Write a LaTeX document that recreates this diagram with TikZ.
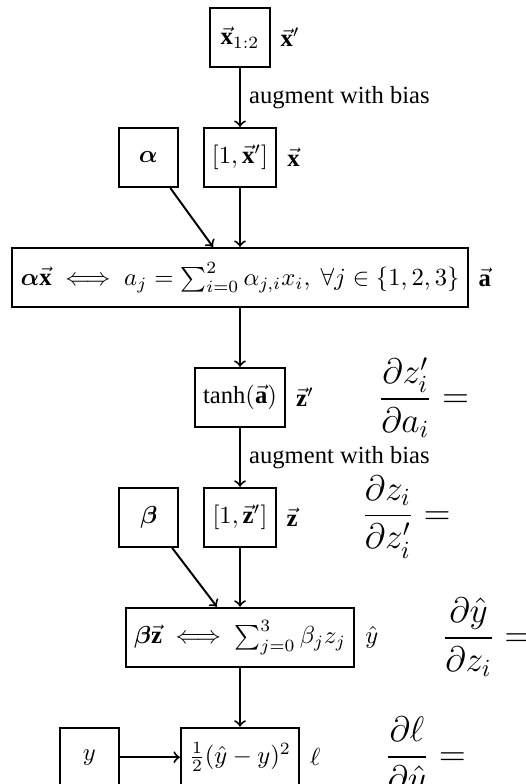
\documentclass[tikz,border=0pt]{standalone}
\usepackage{amsmath}
\usepackage{fontspec}
\setmainfont{Liberation Serif}
\usetikzlibrary{positioning}
\tikzset{
  opbox/.style={draw, thick, minimum size=0.845cm, align=center},
  outlabel/.style={inner sep=3.33pt},
  gradlabel/.style={font=\Large},
  arrow/.style={->, thick}
}

\begin{document}
\begin{tikzpicture}[node distance=0.84cm and 0.343cm]
  \useasboundingbox (0,0) rectangle (7.512,-11.197);
  % forward pass, first layer
  \node[opbox] (xin) at (3.428,-0.536) {$\vec{\mathbf{x}}_{1:2}$};
  \node[outlabel, right=0.02cm of xin] (xinlbl) {$\vec{\mathbf{x}}'$};
  \node[opbox, below=of xin] (xaug) {$[1,\vec{\mathbf{x}}']$};
  \node[outlabel, right=0.02cm of xaug] (xauglbl) {$\vec{\mathbf{x}}$};
  \node[opbox, left=of xaug] (alpha) {$\boldsymbol{\alpha}$};
  \node[opbox, below=of xaug] (act) {$\boldsymbol{\alpha}\vec{\mathbf{x}} \iff a_j = \sum_{i=0}^{2} \alpha_{j,i} x_i,\ \forall j \in \{1,2,3\}$};
  \node[outlabel, right=0.02cm of act] (actlbl) {$\vec{\mathbf{a}}$};
  % hidden layer
  \node[opbox, below=of act] (hid) {$\tanh(\vec{\mathbf{a}})$};
  \node[outlabel, right=0.02cm of hid] (hidlbl) {$\vec{\mathbf{z}}'$};
  \node[gradlabel, right=0.67cm of hidlbl] (dhid) {$\dfrac{\partial z'_i}{\partial a_i} =$};
  \node[opbox, below=of hid] (zaug) {$[1,\vec{\mathbf{z}}']$};
  \node[outlabel, right=0.02cm of zaug] (zauglbl) {$\vec{\mathbf{z}}$};
  \node[gradlabel, right=0.67cm of zauglbl] (dzaug) {$\dfrac{\partial z_i}{\partial z'_i} =$};
  \node[opbox, left=of zaug] (beta) {$\boldsymbol{\beta}$};
  % output and loss
  \node[opbox, below=of zaug] (out) {$\boldsymbol{\beta}\vec{\mathbf{z}} \iff \sum_{j=0}^{3} \beta_j z_j$};
  \node[outlabel, right=0.02cm of out] (outlbl) {$\hat{y}$};
  \node[gradlabel, right=0.67cm of outlbl] (dout) {$\dfrac{\partial \hat{y}}{\partial z_i} =$};
  \node[opbox, below=of out] (loss) {$\frac{1}{2}(\hat{y}-y)^2$};
  \node[outlabel, right=0.02cm of loss] (losslbl) {$\ell$};
  \node[gradlabel, right=0.67cm of losslbl] (dloss) {$\dfrac{\partial \ell}{\partial \hat{y}} =$};
  \node[opbox, left=0.857cm of loss] (ytrue) {$y$};

  \draw[arrow] (xin) -- node[right] {augment with bias} (xaug);
  \draw[arrow] (alpha) -- ([xshift=-0.386cm]act.north);
  \draw[arrow] (xaug) -- (act);
  \draw[arrow] (act) -- (hid);
  \draw[arrow] (hid) -- node[right] {augment with bias} (zaug);
  \draw[arrow] (beta) -- ([xshift=-0.33cm]out.north);
  \draw[arrow] (zaug) -- (out);
  \draw[arrow] (out) -- (loss);
  \draw[arrow] (ytrue) -- (loss);
\end{tikzpicture}
\end{document}
